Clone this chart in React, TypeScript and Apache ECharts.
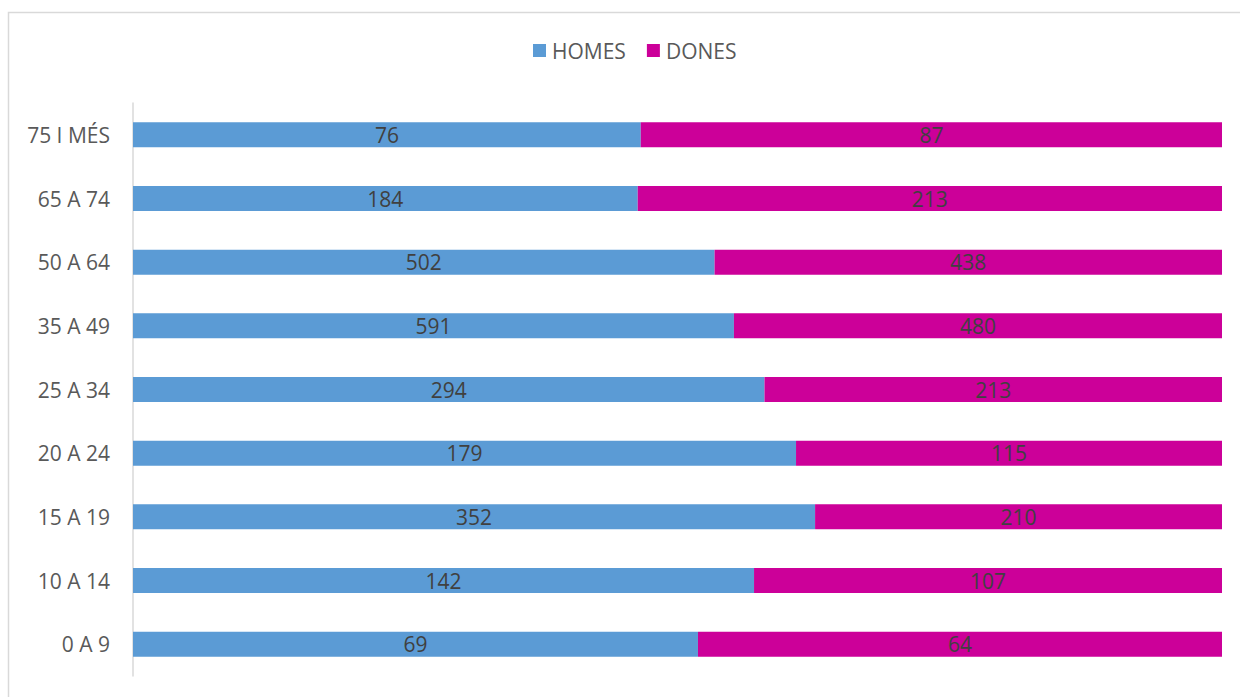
import React, { useEffect, useRef } from "react";
import * as echarts from "echarts";

const categories = ["0 A 9", "10 A 14", "15 A 19", "20 A 24", "25 A 34", "35 A 49", "50 A 64", "65 A 74", "75 I MÉS"];
const homes = [69, 142, 352, 179, 294, 591, 502, 184, 76];
const dones = [64, 107, 210, 115, 213, 480, 438, 213, 87];

const FONT = "'Open Sans', 'Noto Sans', sans-serif";

export default function App() {
  const ref = useRef<HTMLDivElement>(null);
  useEffect(() => {
    if (!ref.current) return;
    const chart = echarts.init(ref.current, undefined, { renderer: "svg" });
    const totals = homes.map((h, i) => h + dones[i]);
    const pct = (arr: number[]) =>
      arr.map((v, i) => ({ value: (v / totals[i]) * 100, raw: v }));
    const labelOpt = {
      show: true,
      position: "inside",
      color: "#404040",
      fontSize: 21,
      fontFamily: FONT,
      formatter: (p: any) => String(p.data.raw),
    };
    chart.setOption({
      animation: false,
      backgroundColor: "#ffffff",
      textStyle: { fontFamily: FONT },
      graphic: [
        {
          type: "rect",
          shape: { x: 8.5, y: 12.5, width: 1240, height: 700 },
          style: { fill: "none", stroke: "#d9d9d9", lineWidth: 1.5 },
          silent: true,
        },
      ],
      legend: {
        top: 35,
        left: 528,
        itemWidth: 13,
        itemHeight: 13,
        itemGap: 21,
        icon: "rect",
        textStyle: { color: "#595959", fontSize: 21, fontFamily: FONT, padding: [0, 0, 0, 1] },
        data: ["HOMES", "DONES"],
      },
      grid: { left: 133, right: 18, top: 103, bottom: 21, containLabel: false },
      xAxis: {
        type: "value",
        min: 0,
        max: 100,
        show: false,
      },
      yAxis: {
        type: "category",
        data: categories,
        axisLine: { show: true, lineStyle: { color: "#d9d9d9", width: 1.5 } },
        axisTick: { show: false },
        axisLabel: { color: "#595959", fontSize: 21, fontFamily: FONT, margin: 23 },
        splitLine: { show: false },
      },
      series: [
        {
          name: "HOMES",
          type: "bar",
          stack: "total",
          barWidth: 25,
          itemStyle: { color: "#5B9BD5" },
          label: labelOpt,
          data: pct(homes),
        },
        {
          name: "DONES",
          type: "bar",
          stack: "total",
          barWidth: 25,
          itemStyle: { color: "#CC0099" },
          label: labelOpt,
          data: pct(dones),
        },
      ],
    });
    return () => chart.dispose();
  }, []);
  return (
    <div
      ref={ref}
      style={{ position: "fixed", left: 0, top: 0, width: 1240, height: 697 }}
    />
  );
}
